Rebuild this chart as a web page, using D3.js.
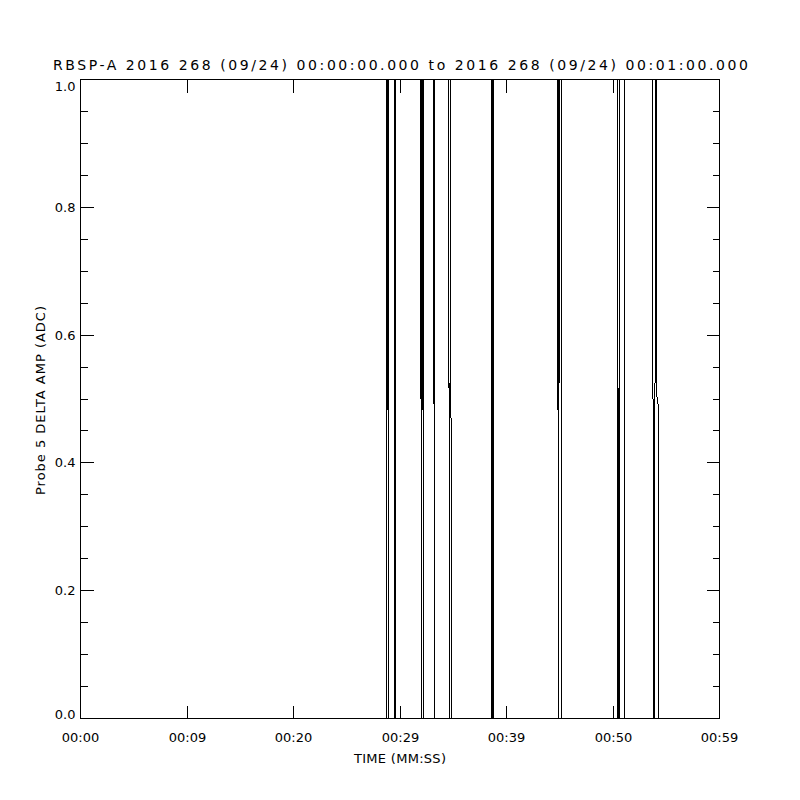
<!DOCTYPE html>
<html>
<head>
<meta charset="utf-8">
<script src="https://cdn.jsdelivr.net/npm/d3@7.9.0/dist/d3.min.js"></script>
<style>
  body { margin: 0; background: #fff; }
  svg text { font-family: "DejaVu Sans", sans-serif; font-size: 13px; fill: #000; }
  svg text.title { font-size: 14px; }
</style>
</head>
<body>
<svg id="chart" width="800" height="800"></svg>
<script>
const title = 'RBSP-A 2016 268 (09/24) 00:00:00.000 to 2016 268 (09/24) 00:01:00.000';
const xTitle = 'TIME (MM:SS)';
const yTitle = 'Probe 5 DELTA AMP (ADC)';

const xTickValues = [0, 10, 20, 30, 40, 50, 60];
const xTickLabels = ['00:00', '00:09', '00:20', '00:29', '00:39', '00:50', '00:59'];
const yTickValues = [0, 0.2, 0.4, 0.6, 0.8, 1];
const yTickLabels = ['0.0', '0.2', '0.4', '0.6', '0.8', '1.0'];
const yMinorValues = [0.05, 0.1, 0.15, 0.25, 0.3, 0.35, 0.45, 0.5, 0.55,
  0.65, 0.7, 0.75, 0.85, 0.9, 0.95];

// samples around each change, seconds after 00:00:00 and ADC value
const sampleTimes = [0, 28.714, 28.751, 28.831, 28.915, 28.939,
  29.465, 29.502, 29.559, 29.596,
  31.930, 32.014, 32.038, 32.117, 32.202, 32.225,
  33.150, 33.235, 33.258,
  34.559, 34.648, 34.742, 34.831,
  38.573, 38.610, 38.667, 38.704, 38.761, 38.798,
  44.793, 44.878, 44.883, 44.892, 44.967, 45.146, 45.183,
  50.404, 50.418, 50.427, 50.512, 50.521, 50.606, 50.629, 51.061, 51.099,
  53.714, 53.798, 53.901, 53.986, 54.054, 54.073, 54.251, 54.270, 60];
const sampleValues = [0, 0, 1, 1, 0, 1,
  1, 0, 0, 1,
  1, 0, 1, 1, 0, 1,
  1, 0, 1,
  1, 0, 1, 0,
  0, 1, 1, 0, 0, 1,
  1, 0, 1, 0, 1, 1, 0,
  0, 1, 1, 0, 0, 1, 0, 0, 1,
  1, 0, 0, 1, 1, 0.51, 0.49, 0, 0];

const samples = sampleTimes.map((t, i) => ({ t, v: sampleValues[i] }));

const svg = d3.select('#chart');
const x = d3.scaleLinear().domain([0, 60]).range([80.5, 719.5]);
const y = d3.scaleLinear().domain([0, 1]).range([718.5, 79.5]);
const snap = v => Math.floor(v) + 0.5;

function tidy(g, pos) {
  g.select('.domain').remove();
  g.selectAll('.tick').attr('transform', d => pos(d));
  g.selectAll('line').attr('stroke', '#000').attr('shape-rendering', 'crispEdges');
}

// bottom axis
const xb = svg.append('g').attr('transform', 'translate(0,718.5)')
  .call(d3.axisBottom(x).tickValues(xTickValues).offset(0)
    .tickFormat(d => xTickLabels[xTickValues.indexOf(d)])
    .tickSize(-13).tickSizeOuter(0));
tidy(xb, d => `translate(${snap(x(d))},0)`);
xb.selectAll('text').attr('y', 23.5).attr('dy', 0);

// top axis
const xt = svg.append('g').attr('transform', 'translate(0,79.5)')
  .call(d3.axisTop(x).tickValues(xTickValues).offset(0)
    .tickFormat('').tickSize(-13).tickSizeOuter(0));
tidy(xt, d => `translate(${snap(x(d))},0)`);

// left axis
const yl = svg.append('g').attr('transform', 'translate(80.5,0)')
  .call(d3.axisLeft(y).tickValues(yTickValues).offset(0)
    .tickFormat(d => yTickLabels[yTickValues.indexOf(d)])
    .tickSize(-13).tickSizeOuter(0));
tidy(yl, d => `translate(0,${snap(y(d))})`);
yl.selectAll('text').attr('x', -5).attr('dy', '0.32em');
yl.selectAll('text').filter(d => d === 1).attr('dy', 11);
yl.selectAll('text').filter(d => d === 0).attr('dy', 0.5);

const ylm = svg.append('g').attr('transform', 'translate(80.5,0)')
  .call(d3.axisLeft(y).tickValues(yMinorValues).offset(0)
    .tickFormat('').tickSize(-7).tickSizeOuter(0));
tidy(ylm, d => `translate(0,${snap(y(d))})`);

// right axis
const yr = svg.append('g').attr('transform', 'translate(719.5,0)')
  .call(d3.axisRight(y).tickValues(yTickValues).offset(0)
    .tickFormat('').tickSize(-13).tickSizeOuter(0));
tidy(yr, d => `translate(0,${snap(y(d))})`);

const yrm = svg.append('g').attr('transform', 'translate(719.5,0)')
  .call(d3.axisRight(y).tickValues(yMinorValues).offset(0)
    .tickFormat('').tickSize(-7).tickSizeOuter(0));
tidy(yrm, d => `translate(0,${snap(y(d))})`);

// frame
svg.append('rect')
  .attr('x', x(0)).attr('y', y(1))
  .attr('width', x(60) - x(0)).attr('height', y(0) - y(1))
  .attr('fill', 'none').attr('stroke', '#000')
  .attr('shape-rendering', 'crispEdges');

// data
const line = d3.line().x(d => x(d.t)).y(d => y(d.v));
svg.append('path')
  .datum(samples)
  .attr('d', line)
  .attr('fill', 'none')
  .attr('stroke', '#000')
  .attr('stroke-width', 1)
  .attr('shape-rendering', 'crispEdges');

// titles
svg.append('text')
  .attr('class', 'title')
  .attr('x', 400.5).attr('y', 69.5)
  .attr('text-anchor', 'middle')
  .attr('textLength', 695).attr('lengthAdjust', 'spacing')
  .text(title);

svg.append('text')
  .attr('x', 400).attr('y', 763)
  .attr('text-anchor', 'middle')
  .attr('textLength', 92).attr('lengthAdjust', 'spacing')
  .text(xTitle);

svg.append('text')
  .attr('transform', 'translate(44.5,400.5) rotate(-90)')
  .attr('text-anchor', 'middle')
  .attr('textLength', 189).attr('lengthAdjust', 'spacing')
  .text(yTitle);
</script>
</body>
</html>
